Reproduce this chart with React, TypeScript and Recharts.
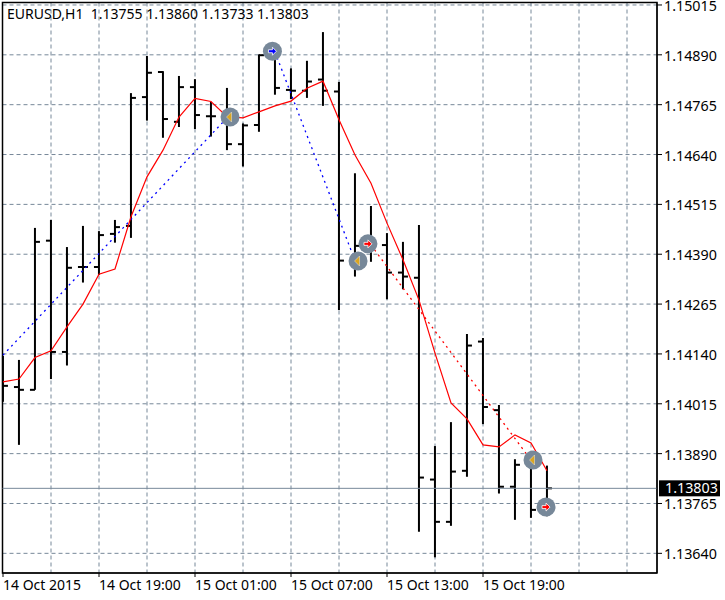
import React from 'react';
import {
  ComposedChart,
  CartesianGrid,
  XAxis,
  YAxis,
  Bar,
  Line,
  Scatter,
  ReferenceLine,
  ReferenceArea,
} from 'recharts';

const FONT = '"Noto Sans", sans-serif';
const GRID = '#778899';

const hours = Array.from({ length: 35 }, (_, i) => i);

const highs = [1.14135, 1.14125, 1.14456, 1.14476, 1.14408, 1.14461, 1.14448, 1.14476, 1.14794, 1.14887, 1.14849, 1.14837, 1.14829, 1.14772, 1.14807, 1.14718, 1.14891, 1.14897, 1.14856, 1.14875, 1.14947, 1.14822, 1.14593, 1.14511, 1.14443, 1.14421, 1.14463, 1.13909, 1.13969, 1.1419, 1.1418, 1.14012, 1.13876, 1.13867, 1.1386];
const lows = [1.1402, 1.13912, 1.1405, 1.14077, 1.14111, 1.14319, 1.14338, 1.14419, 1.14431, 1.14725, 1.14682, 1.14709, 1.14704, 1.14685, 1.14651, 1.1461, 1.14697, 1.1479, 1.14779, 1.14782, 1.14762, 1.1425, 1.14334, 1.14371, 1.14277, 1.14302, 1.13694, 1.1363, 1.13709, 1.13832, 1.13964, 1.1379, 1.13724, 1.13729, 1.13733];
// the first open falls left of the frame, it can't be seen
const opens = [null, 1.14057, 1.1405, 1.14424, 1.14145, 1.14358, 1.14358, 1.14441, 1.14461, 1.14784, 1.14847, 1.14722, 1.14809, 1.14736, 1.14732, 1.14666, 1.14714, 1.14887, 1.14802, 1.148, 1.14828, 1.14798, 1.14374, 1.14411, 1.14413, 1.14344, 1.14331, 1.13825, 1.13719, 1.13847, 1.14171, 1.13999, 1.13807, 1.13864, 1.13755];
const closes = [1.1406, 1.1405, 1.14421, 1.14145, 1.14356, 1.14358, 1.14438, 1.14458, 1.14782, 1.14845, 1.14729, 1.14809, 1.14739, 1.14736, 1.14666, 1.14713, 1.14889, 1.14807, 1.148, 1.14823, 1.148, 1.14374, 1.14411, 1.14413, 1.14344, 1.14334, 1.1383, 1.13719, 1.13845, 1.14161, 1.14007, 1.13807, 1.13862, 1.13749, 1.13803];
const movingAvg = [1.1407, 1.14077, 1.14131, 1.14148, 1.14208, 1.14265, 1.1434, 1.14353, 1.14484, 1.14584, 1.14651, 1.14734, 1.14781, 1.14773, 1.14735, 1.14732, 1.14747, 1.14762, 1.14774, 1.14806, 1.14824, 1.14727, 1.14639, 1.14568, 1.14468, 1.14376, 1.14275, 1.14142, 1.14017, 1.13977, 1.13912, 1.13907, 1.13937, 1.13917, 1.13847];

const priceTicks = [1.15015, 1.1489, 1.14765, 1.1464, 1.14515, 1.1439, 1.14265, 1.1414, 1.14015, 1.1389, 1.13765, 1.1364];
const timeTicks = [0, 6, 12, 18, 24, 30];
const timeLabels = ['14 Oct 2015', '14 Oct 19:00', '15 Oct 01:00', '15 Oct 07:00', '15 Oct 13:00', '15 Oct 19:00'];
const gridHours = [3, 6, 9, 12, 15, 18, 21, 24, 27, 30, 33, 36, 39];

const lastPrice = 1.13803;
const minPrice = 1.135907;
const maxPrice = 1.150212;
const minHour = -0.03125;
const maxHour = 40.875;

const buyTrades = [
  [{ hour: 0, price: 1.14137 }, { hour: 14, price: 1.14732 }],
  [{ hour: 17, price: 1.14897 }, { hour: 22, price: 1.14374 }],
];
const sellTrades = [[{ hour: 23, price: 1.14413 }, { hour: 33, price: 1.13874 }]];

const markerHours = [14.19, 16.84, 22.19, 22.81, 33.125, 33.94];
const markerPrices = [1.14734, 1.14899, 1.14373, 1.14416, 1.13874, 1.13756];
const markerKinds = ['close', 'buy', 'close', 'sell', 'close', 'sell'];

const rows = hours.map((hour, i) => ({
  hour,
  range: [lows[i], highs[i]],
  high: highs[i],
  low: lows[i],
  open: opens[i],
  close: closes[i],
  ma: movingAvg[i],
}));

const markers = markerHours.map((hour, i) => ({ hour, price: markerPrices[i], kind: markerKinds[i] }));

function OhlcBar(props: any) {
  const { x, y, width, height, payload } = props;
  const mid = x + width / 2;
  const at = (v: number) => y + ((payload.high - v) / (payload.high - payload.low)) * height;
  return (
    <g stroke="#000" strokeWidth={2}>
      <line x1={mid} x2={mid} y1={y} y2={y + height} />
      {payload.open != null && <line x1={mid - 5} x2={mid} y1={at(payload.open)} y2={at(payload.open)} />}
      <line x1={mid} x2={mid + 5} y1={at(payload.close)} y2={at(payload.close)} />
    </g>
  );
}

function MarkerDisc({ cx, cy }: any) {
  return <circle cx={cx} cy={cy} r={9.5} fill={GRID} />;
}

function MarkerArrow({ cx, cy, payload }: any) {
  if (payload.kind === 'close') {
    return <path d={`M${cx - 3.5} ${cy}L${cx + 1.5} ${cy - 5}L${cx + 1.5} ${cy + 5}Z`} fill="#DAA520" stroke="#fff" strokeWidth={0.4} />;
  }
  const fill = payload.kind === 'buy' ? '#0000ff' : '#ff0000';
  return (
    <path
      d={`M${cx - 4} ${cy - 1.5}H${cx}V${cy - 4}L${cx + 4} ${cy}L${cx} ${cy + 4}V${cy + 1.5}H${cx - 4}Z`}
      fill={fill}
      stroke="#fff"
      strokeWidth={0.8}
    />
  );
}

function TimeTick({ x, y, payload }: any) {
  return (
    <text x={x} y={y + 11} textAnchor="start" fontFamily={FONT} fontSize={14} fill="#000">
      {timeLabels[timeTicks.indexOf(payload.value)]}
    </text>
  );
}

function PriceTick({ x, y, payload }: any) {
  return (
    <text x={x} y={y + 6} textAnchor="start" fontFamily={FONT} fontSize={14.3} fill="#000">
      {payload.value.toFixed(5)}
    </text>
  );
}

function LastPriceTag({ viewBox }: any) {
  const { x, y, width } = viewBox;
  return (
    <g>
      <rect x={x + width + 2} y={y - 8} width={61} height={16} fill="#000" />
      <text x={x + width + 8} y={y + 5} fontFamily={FONT} fontSize={14.3} fill="#fff">
        {lastPrice.toFixed(5)}
      </text>
    </g>
  );
}

export default function App() {
  return (
    <div style={{ position: 'absolute', left: 0, top: 0, width: 725, height: 600, background: '#fff' }}>
      <ComposedChart
        width={725}
        height={600}
        data={rows}
        margin={{ top: 2.5, left: 2.5, right: 0, bottom: 0 }}
      >
        <CartesianGrid
          stroke={GRID}
          strokeDasharray="4 3"
          horizontalValues={priceTicks}
          verticalValues={gridHours}
        />
        <XAxis
          dataKey="hour"
          type="number"
          domain={[minHour, maxHour]}
          ticks={timeTicks}
          interval={0}
          height={27}
          tickSize={4}
          tickLine={{ stroke: '#000' }}
          axisLine={{ stroke: '#000' }}
          tick={<TimeTick />}
        />
        <YAxis
          orientation="right"
          type="number"
          domain={[minPrice, maxPrice]}
          ticks={priceTicks}
          interval={0}
          width={68}
          tickSize={5}
          tickMargin={2}
          tickLine={{ stroke: '#000' }}
          axisLine={{ stroke: '#000' }}
          tick={<PriceTick />}
        />
        <ReferenceArea x1={minHour} x2={maxHour} y1={minPrice} y2={maxPrice} fill="none" stroke="#000" strokeWidth={1.5} />
        <ReferenceLine y={lastPrice} stroke={GRID} strokeWidth={1} label={<LastPriceTag />} />
        <Scatter data={markers} dataKey="price" shape={<MarkerDisc />} isAnimationActive={false} />
        <Bar dataKey="range" barSize={2} shape={<OhlcBar />} isAnimationActive={false} />
        {buyTrades.map((t, i) => (
          <Line key={`buy${i}`} data={t} dataKey="price" stroke="#0000ff" strokeWidth={1.3} strokeDasharray="2 4" dot={false} isAnimationActive={false} />
        ))}
        {sellTrades.map((t, i) => (
          <Line key={`sell${i}`} data={t} dataKey="price" stroke="#ff0000" strokeWidth={1.3} strokeDasharray="2 4" dot={false} isAnimationActive={false} />
        ))}
        <Line dataKey="ma" type="linear" stroke="#ff0000" strokeWidth={1.2} dot={false} isAnimationActive={false} />
        <Scatter data={markers} dataKey="price" shape={<MarkerArrow />} isAnimationActive={false} />
      </ComposedChart>
      <div style={{ position: 'absolute', left: 7, top: 5, fontFamily: FONT, fontSize: 14, lineHeight: '18px', whiteSpace: 'pre', color: '#000' }}>
        {'EURUSD,H1  1.13755 1.13860 1.13733 1.13803'}
      </div>
    </div>
  );
}
